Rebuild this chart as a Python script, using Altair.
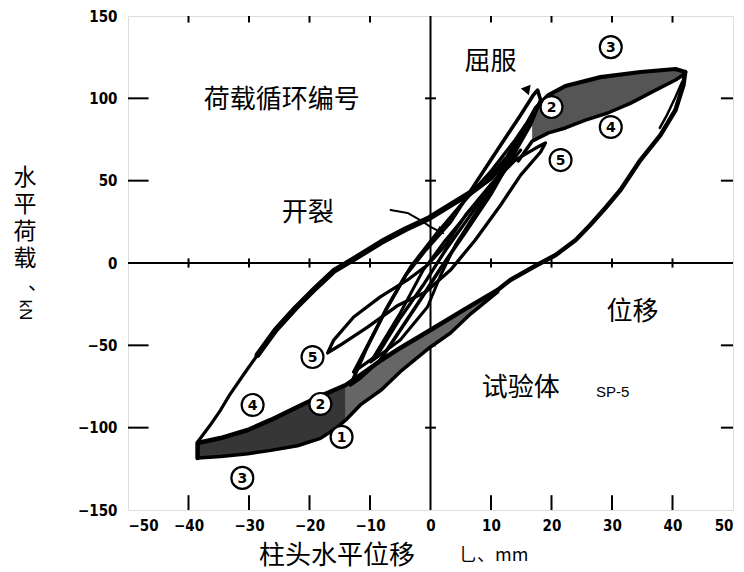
import altair as alt
import pandas as pd

# ---------------- data ----------------
x_ticks = [-50, -40, -30, -20, -10, 0, 10, 20, 30, 40, 50]
y_ticks = [150, 100, 50, 0, -50, -100, -150]
inner_x_ticks = [-40, -30, -20, -10, 10, 20, 30, 40]
inner_y_ticks = [100, 50, -50, -100]

# reloading branch: negative peak -> positive peak (cycle 3)
upper_x = [-38.5, -38.5, -36.4, -34.7, -33.2, -30.6, -28.6, -25.6, -22.3, -19.0, -16.0, -12.4, -8.1,
           -4.1, -0.2, 3.3, 6.8, 9.9, 12.4, 14.9, 17.4, 19.5, 22.3, 28.1, 34.7, 40.5, 42.1]
upper_y = [-118.4, -108.7, -98.4, -89.3, -80.1, -66.2, -55.9, -40.7, -27.3, -15.2, -4.9, 3.0, 12.8,
           20.6, 27.3, 35.2, 43.1, 51.6, 62.5, 77.7, 94.1, 102.0, 107.5, 112.9, 116.0, 117.8, 116.0]

# unloading branch: positive peak -> negative peak
lower_x = [42.1, 41.8, 40.5, 38.0, 34.7, 31.4, 28.9, 26.4, 24.0, 20.7, 17.0, 13.2, 11.1, 5.5, 0.0,
           -5.0, -8.1, -11.6, -14.0, -18.2, -22.0, -26.4, -30.2, -34.7, -38.5, -38.5]
lower_y = [116.0, 108.1, 92.9, 77.7, 62.5, 44.3, 33.4, 23.1, 14.0, 4.9, -2.4, -10.3, -16.4, -28.5, -40.7,
           -51.6, -58.9, -68.0, -74.1, -80.8, -87.4, -95.3, -101.4, -106.3, -109.3, -118.4]

# cycle 4 lower edge (bottom of the shaded bands)
edge_x = [-38.5, -34.7, -30.2, -26.4, -22.0, -18.2, -15.5, -14.0, -11.6, -8.1, -5.0, 0.0, 3.3, 6.6, 11.1]
edge_y = [-118.4, -117.5, -115.8, -113.8, -111.0, -106.5, -100.0, -95.3, -86.2, -77.0, -66.0, -51.0,
          -42.5, -31.0, -17.6]

# upper-right band lower edge
uedge_x = [14.5, 16.8, 19.5, 22.3, 25.6, 29.3, 33.1, 37.2, 40.5, 42.0]
uedge_y = [62.0, 74.0, 79.0, 82.0, 86.8, 91.1, 97.1, 105.0, 111.1, 114.8]

spike_x = [41.6, 40.4, 39.1, 37.9]
spike_y = [110.0, 100.0, 90.0, 82.0]

# inner loops (cycles 1, 2, 5)
loopA_x = [-13.2, -10.7, -7.4, -4.1, -0.8, 3.3, 7.8, 11.6, 14.9, 17.0, 17.7, 18.2, 16.5, 13.2, 9.9,
           5.8, 1.7, -1.7, -5.0, -8.3, -11.6, -13.2]
loopA_y = [-74.0, -52.8, -28.5, -7.3, 7.9, 24.9, 50.4, 71.6, 89.9, 102.0, 105.0, 99.0, 83.8, 62.5, 41.3,
           18.8, -3.0, -22.5, -40.7, -58.9, -69.8, -74.0]
loopB_x = [-17.0, -16.0, -12.7, -8.3, -3.8, -0.5, 2.5, 5.8, 9.9, 14.0, 17.4, 19.0, 18.2, 14.9, 11.6,
           7.4, 3.3, -0.8, -5.5, -10.4, -14.9, -17.0]
loopB_y = [-54.6, -46.8, -32.8, -20.6, -10.3, -1.2, 10.9, 29.1, 47.4, 62.5, 69.8, 72.9, 67.4, 53.4, 35.2,
           14.0, -4.3, -17.6, -26.0, -38.9, -49.8, -54.6]
loopC_x = [-12.7, -7.1, -3.3, 0.8, 5.0, 9.9, 14.0, 15.7, 14.0, 10.7, 6.6, 2.5, -1.2, -5.0, -8.8, -12.7]
loopC_y = [-66.2, -26.7, -2.4, 17.0, 35.2, 55.3, 74.7, 83.8, 68.6, 50.4, 29.1, 7.9, -13.4, -33.4, -55.9, -66.2]
loopD_x = [-9.9, -5.0, -1.2, 2.5, 6.6, 11.6, 14.9, 12.4, 8.3, 4.1, 1.7, -0.5, -5.0, -9.9]
loopD_y = [-60.1, -30.4, -4.3, 14.0, 32.2, 53.4, 68.6, 56.5, 35.2, 10.9, -7.3, -26.7, -46.8, -60.1]

# shaded bands
bandUR_x = [16.8, 19.5, 22.3, 25.6, 29.3, 33.1, 37.2, 40.5, 42.0]
bandUR_top = [92.0, 102.0, 107.5, 110.8, 113.5, 115.3, 116.8, 117.8, 116.0]
bandUR_bot = [74.0, 79.0, 82.0, 86.8, 91.1, 97.1, 105.0, 111.1, 114.8]
bandLL_x = [-38.5, -34.7, -30.2, -26.4, -22.0, -18.2, -15.5, -14.0]
bandLL_top = [-109.3, -106.3, -101.4, -95.3, -87.4, -80.8, -76.5, -74.1]
bandLL_bot = [-118.4, -117.5, -115.8, -113.8, -111.0, -106.5, -100.0, -95.3]
bandD_x = [-14.0, -11.6, -8.1, -5.0, 0.0, 3.3, 5.5, 6.6, 11.1]
bandD_top = [-74.1, -68.0, -58.9, -51.6, -40.7, -33.4, -28.5, -26.1, -16.4]
bandD_bot = [-95.3, -86.2, -77.0, -66.0, -51.0, -42.5, -34.8, -31.0, -17.6]

# "开裂" arrow
crack_x = [-6.6, -3.8, -1.7, 0.0, 1.7]
crack_y = [32.2, 30.4, 26.1, 21.9, 18.8]

# circled cycle numbers
circ_x = [29.8, 20.0, 29.8, 21.5, -19.5, -29.4, -18.2, -14.7, -31.1]
circ_y = [131.1, 94.7, 82.6, 62.5, -57.1, -86.2, -85.6, -105.6, -130.5]
circ_label = ["3", "2", "4", "5", "5", "4", "2", "1", "3"]

# annotations
ann_text = ["荷载循环编号", "屈服", "开裂", "位移", "试验体"]
ann_x = [-24.6, 9.9, -20.3, 33.4, 14.9]
ann_y = [99.0, 122.0, 30.4, -29.8, -75.9]

# ---------------- build tables ----------------
rows = []
def add(name, xs, ys, w):
    for i, (a, b) in enumerate(zip(xs, ys)):
        rows.append({"curve": name, "i": i, "x": a, "y": b, "w": w})

add("up1", upper_x[:7], upper_y[:7], 3.2)
add("up2", upper_x[6:19], upper_y[6:19], 5.8)
add("up3", upper_x[18:], upper_y[18:], 4.2)
add("low", lower_x, lower_y, 4.5)
add("edge", edge_x, edge_y, 3.5)
add("uedge", uedge_x, uedge_y, 3.5)
add("spike", spike_x, spike_y, 2.5)
add("A", loopA_x, loopA_y, 3.6)
add("B", loopB_x, loopB_y, 3.3)
add("C", loopC_x, loopC_y, 3.3)
add("D", loopD_x, loopD_y, 3.0)
add("crack", crack_x, crack_y, 2.0)
lines = pd.DataFrame(rows)

brows = []
for name, xs_, t, b in [("UR", bandUR_x, bandUR_top, bandUR_bot),
                        ("LL", bandLL_x, bandLL_top, bandLL_bot),
                        ("D", bandD_x, bandD_top, bandD_bot)]:
    for a, tt, bb in zip(xs_, t, b):
        brows.append({"band": name, "x": a, "top": tt, "bot": bb})
bands = pd.DataFrame(brows)

xs = alt.Scale(domain=[-50, 50], nice=False, zero=False)
ys = alt.Scale(domain=[-150, 150], nice=False, zero=False)

lab_font = "Liberation Sans Narrow, DejaVu Sans Condensed, Liberation Sans"
cjk = "Noto Sans CJK SC"

base_axes = alt.Chart(pd.DataFrame({"x": [0], "y": [0]})).mark_point(opacity=0).encode(
    x=alt.X("x:Q", scale=xs, axis=alt.Axis(values=x_ticks, title=None, ticks=False, tickSize=0,
                                           domain=False, grid=False, labelFont=lab_font,
                                           labelFontWeight="bold", labelFontSize=15,
                                           labelPadding=8, labelColor="black")),
    y=alt.Y("y:Q", scale=ys, axis=alt.Axis(values=y_ticks, title=None, ticks=False, tickSize=0,
                                           domain=False, grid=False, labelFont=lab_font,
                                           labelFontWeight="bold", labelFontSize=15,
                                           labelPadding=11, labelColor="black")),
)

# zero cross lines
zero_v = alt.Chart(pd.DataFrame({"x": [0], "y": [-150], "y2": [150]})).mark_rule(
    color="black", strokeWidth=2).encode(x=alt.X("x:Q", scale=xs), y=alt.Y("y:Q", scale=ys), y2="y2:Q")
zero_h = alt.Chart(pd.DataFrame({"y": [0], "x": [-50], "x2": [50]})).mark_rule(
    color="black", strokeWidth=2).encode(y=alt.Y("y:Q", scale=ys), x=alt.X("x:Q", scale=xs), x2="x2:Q")

# small tick marks on zero lines and frame
trows = []
for v in inner_x_ticks:
    trows.append({"x": v, "x2": v, "y": -2.8, "y2": 2.8})      # on y=0 line
    trows.append({"x": v, "x2": v, "y": -150, "y2": -141})     # bottom frame
    trows.append({"x": v, "x2": v, "y": 150, "y2": 146})       # top frame
for v in inner_y_ticks:
    trows.append({"x": -0.9, "x2": 0.9, "y": v, "y2": v})      # on x=0 line
    trows.append({"x": -50, "x2": -46.6, "y": v, "y2": v})     # left frame
    trows.append({"x": 48, "x2": 50, "y": v, "y2": v})         # right frame
ticks = alt.Chart(pd.DataFrame(trows)).mark_rule(color="black", strokeWidth=2).encode(
    x=alt.X("x:Q", scale=xs), x2="x2:Q", y=alt.Y("y:Q", scale=ys), y2="y2:Q")

band_layer = alt.Chart(bands).mark_area(opacity=1).encode(
    x=alt.X("x:Q", scale=xs),
    y=alt.Y("top:Q", scale=ys),
    y2="bot:Q",
    color=alt.Color("band:N", scale=alt.Scale(domain=["UR", "LL", "D"],
                                              range=["#555555", "#363636", "#666666"]), legend=None),
)

line_layer = alt.Chart(lines).mark_line(color="black", strokeJoin="round", strokeCap="round").encode(
    x=alt.X("x:Q", scale=xs),
    y=alt.Y("y:Q", scale=ys),
    detail="curve:N",
    order="i:Q",
    strokeWidth=alt.StrokeWidth("w:Q", scale=None),
)

arrow_head = alt.Chart(pd.DataFrame({"x": [crack_x[-1]], "y": [crack_y[-1]]})).mark_point(
    shape="triangle-right", filled=True, color="black", size=90, angle=30, opacity=1).encode(
    x=alt.X("x:Q", scale=xs), y=alt.Y("y:Q", scale=ys))
yield_head = alt.Chart(pd.DataFrame({"x": [16.0], "y": [104.5]})).mark_point(
    shape="triangle-down", filled=True, color="black", size=110, angle=340, opacity=1).encode(
    x=alt.X("x:Q", scale=xs), y=alt.Y("y:Q", scale=ys))

circ_df = pd.DataFrame({"x": circ_x, "y": circ_y, "t": circ_label})
circles = alt.Chart(circ_df).mark_point(shape="circle", filled=True, fill="white", stroke="black",
                                         strokeWidth=2.2, size=480, opacity=1).encode(
    x=alt.X("x:Q", scale=xs), y=alt.Y("y:Q", scale=ys))
circ_text = alt.Chart(circ_df).mark_text(font="DejaVu Sans", fontWeight="bold", fontSize=14,
                                          color="black", baseline="middle", dy=1).encode(
    x=alt.X("x:Q", scale=xs), y=alt.Y("y:Q", scale=ys), text="t:N")

ann_df = pd.DataFrame({"x": ann_x, "y": ann_y, "t": ann_text})
ann = alt.Chart(ann_df).mark_text(font=cjk, fontSize=26, color="black", baseline="middle").encode(
    x=alt.X("x:Q", scale=xs), y=alt.Y("y:Q", scale=ys), text="t:N")
sp = alt.Chart(pd.DataFrame({"x": [30.1], "y": [-78.3], "t": ["SP-5"]})).mark_text(
    font="Liberation Sans", fontSize=15, color="black", baseline="middle").encode(
    x=alt.X("x:Q", scale=xs), y=alt.Y("y:Q", scale=ys), text="t:N")

# axis titles (pixel positions relative to plot area)
one = pd.DataFrame({"a": [0]})
titles = []
titles.append(alt.Chart(one).mark_text(text=["水", "平", "荷", "载"], font=cjk, fontSize=23, lineHeight=27,
                                       color="black", baseline="top").encode(x=alt.value(-103), y=alt.value(151)))
titles.append(alt.Chart(one).mark_text(text="、", font=cjk, fontSize=20, color="black",
                                       baseline="middle", align="left").encode(x=alt.value(-100), y=alt.value(268)))
titles.append(alt.Chart(one).mark_text(text="kN", font="Liberation Sans", fontSize=17, color="black",
                                       baseline="middle", angle=90).encode(x=alt.value(-103), y=alt.value(294)))
titles.append(alt.Chart(one).mark_text(text="柱头水平位移", font=cjk, fontSize=26, color="black",
                                       baseline="middle").encode(x=alt.value(209), y=alt.value(540)))
titles.append(alt.Chart(one).mark_text(text="乚、mm", font=cjk, fontSize=18, color="black",
                                       baseline="middle", align="left").encode(x=alt.value(331), y=alt.value(540)))

chart = alt.layer(
    base_axes, zero_v, zero_h, ticks, band_layer, line_layer, arrow_head, yield_head,
    circles, circ_text, ann, sp, *titles
).properties(
    width=605, height=494,
    padding={"left": 120, "top": 8, "right": 3, "bottom": 60},
    autosize=alt.AutoSizeParams(type="none"),
).configure_view(stroke="black", strokeWidth=4).configure(background="white")

chart.save("out.html", embed_options={"renderer": "svg", "actions": False})
